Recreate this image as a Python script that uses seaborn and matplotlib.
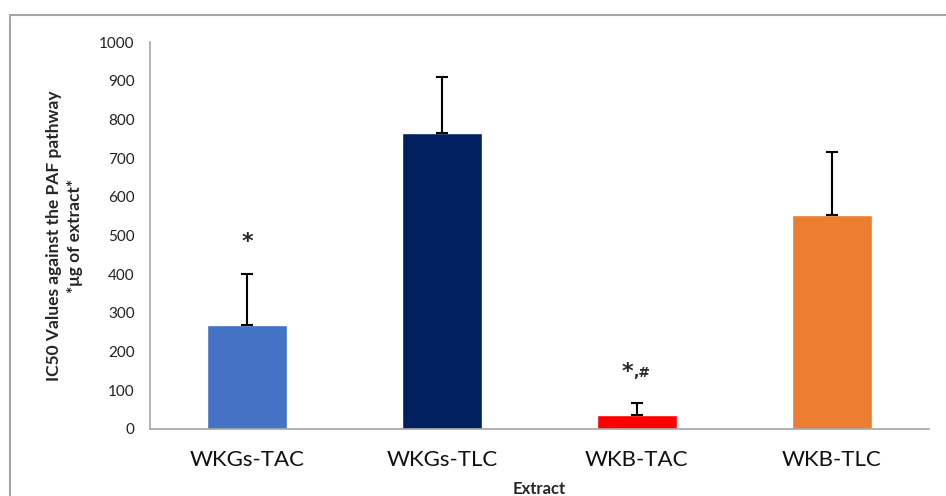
import numpy as np
import pandas as pd
import seaborn as sns
import matplotlib.pyplot as plt
from matplotlib.patches import Rectangle

# Data
extracts = ["WKGs-TAC", "WKGs-TLC", "WKB-TAC", "WKB-TLC"]
ic50 = [269, 766, 36, 553]
err_up = [131, 144, 31, 163]
colors = ["#4472C4", "#002060", "#FF0000", "#ED7D31"]
marks = ["*", "", "*", ""]
mark_sup = ["", "", ",#", ""]
mark_y = [483, None, 148, None]

df = pd.DataFrame({"extract": extracts, "ic50": ic50})

sns.set_style("white")
plt.rcParams["font.family"] = ["Lato", "DejaVu Sans"]

fig = plt.figure(figsize=(9.46, 4.96), dpi=100)
ax = fig.add_axes([150 / 946, 1 - 429 / 496, 779 / 946, 387 / 496])

sns.barplot(data=df, x="extract", y="ic50", hue="extract", palette=colors,
            width=0.41, errorbar=None, legend=False, saturation=1, ax=ax)
ax.errorbar(np.arange(len(extracts)), ic50, yerr=[np.zeros(len(err_up)), err_up],
            fmt="none", ecolor="black", elinewidth=1.5, capsize=4.5, capthick=1.5)

# significance marks
for i, (m, s, yy) in enumerate(zip(marks, mark_sup, mark_y)):
    if m:
        if s:
            ax.text(i - 0.02, yy, m, ha="right", va="center", fontsize=16,
                    fontweight="bold", family="DejaVu Sans")
            ax.text(i - 0.02, yy - 3, s, ha="left", va="center", fontsize=10,
                    fontweight="bold", family="DejaVu Sans")
        else:
            ax.text(i, yy, m, ha="center", va="center", fontsize=16,
                    fontweight="bold", family="DejaVu Sans")

ax.set_xlim(-0.5, 3.5)
ax.set_ylim(0, 1000)
ax.set_yticks(range(0, 1001, 100))
ax.tick_params(axis="y", labelsize=11, length=5, color="#A6A6A6", labelcolor="#222222", pad=6)
ax.tick_params(axis="x", which="major", labelsize=16, length=0, pad=15, labelcolor="#111111")
ax.set_xticks(np.arange(-0.5, 4, 1), minor=True)
ax.tick_params(axis="x", which="minor", length=6, color="#A6A6A6", width=1)

for side in ["top", "right"]:
    ax.spines[side].set_visible(False)
for side in ["left", "bottom"]:
    ax.spines[side].set_color("#A6A6A6")
    ax.spines[side].set_linewidth(1.2)

ax.set_xlabel("Extract", fontsize=12, fontweight="bold", labelpad=8)
ax.set_ylabel("IC50 Values against the PAF pathway\n*μg of extract*", fontsize=12.5,
              fontweight="bold", labelpad=12, linespacing=1.35)

# outer chart border
fig.patches.append(Rectangle((10 / 946, -0.1), 1.1, 1 - 15 / 496 + 0.1, transform=fig.transFigure,
                             fill=False, edgecolor="#A6A6A6", linewidth=1.5))

plt.savefig("out.png", dpi=100)
